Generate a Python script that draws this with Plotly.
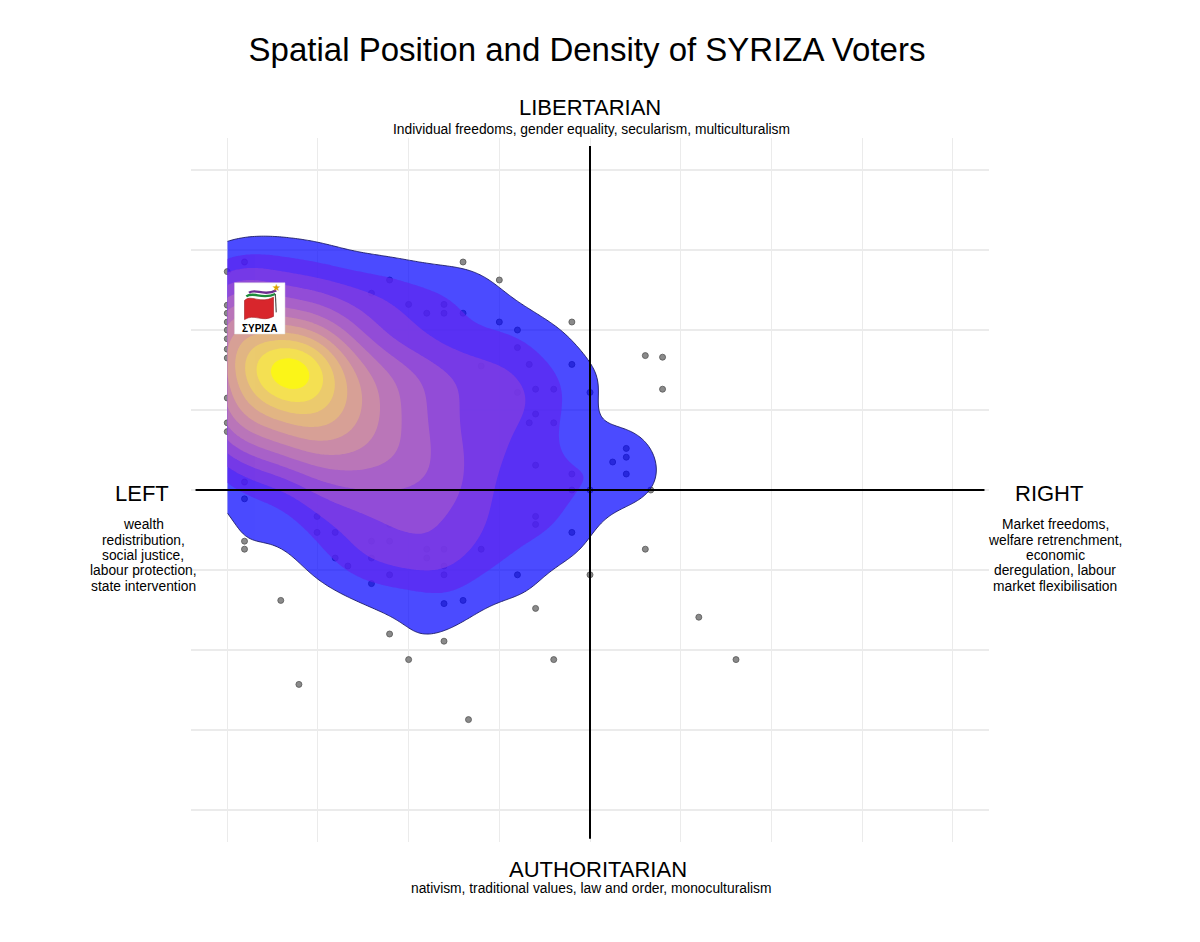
import numpy as np
import plotly.graph_objects as go

# ---------------- data ----------------
# visible respondents (economic left-right, libertarian-authoritarian)
pts_x = [-4.0, -4.0, -4.0, -4.0, -4.0, -4.0, -4.0, -4.0, -4.0, -4.0, -4.0,
         -3.81, -3.81, -3.81, -3.81, -3.81,
         -3.41, -3.21, -3.01, -3.01, -2.81, -2.81, -2.67,
         -2.41, -2.41, -2.41, -2.41,
         -2.21, -2.21, -2.21, -2.21, -2.21,
         -2.0, -2.0, -1.80, -1.80, -1.80,
         -1.61, -1.61, -1.61, -1.61, -1.61, -1.61, -1.61,
         -1.40, -1.40, -1.40, -1.34, -1.20, -1.20, -1.00, -1.00,
         -0.80, -0.80, -0.80, -0.80, -0.67, -0.67,
         -0.60, -0.60, -0.60, -0.60, -0.60, -0.60,
         -0.40, -0.40, -0.40,
         -0.20, -0.20, -0.20, -0.20, -0.20,
         0.00, 0.00, 0.00, 0.25, 0.40, 0.40, 0.40, 0.61, 0.61, 0.67,
         0.80, 0.80, 1.20, 1.61]
pts_y = [2.73, 2.31, 2.21, 2.10, 2.00, 1.89, 1.76, 1.65, 1.15, 0.84, 0.73,
         2.85, 0.10, -0.11, -0.64, -0.74,
         -1.38, -2.43, -0.33, -0.53, -0.53, -0.85, -0.95,
         2.46, -0.64, -0.85, -1.17,
         2.625, -0.43, -0.64, -1.06, -1.80,
         2.32, -2.12, 2.21, -0.74, -0.85,
         2.32, 2.21, -0.74, -0.95, -1.06, -1.42, -1.89,
         2.85, 2.21, -1.38, -2.87, 1.55, -0.74, 2.625, 2.10,
         2.00, 1.78, 1.22, -1.06, 1.57, 0.84,
         1.26, 0.95, 0.31, -0.33, -0.43, -1.48,
         1.26, 0.84, -2.12,
         2.10, 1.57, 0.20, 0.00, -0.53,
         1.22, 0.00, -1.06, 0.35, 0.52, 0.41, 0.20, 1.68, -0.74, 0.00,
         1.66, 1.26, -1.59, -2.12]

# respondents hidden under the dense core: counts on a 0.5 grid
hid_x = [-4.0, -3.5, -3.0, -2.5, -2.0, -1.5, -1.0, -0.5]
hid_y = [3.0, 2.5, 2.0, 1.5, 1.0, 0.5, 0.0, -0.5, -1.0]
hid_n = [
    [0, 1, 1, 0, 0, 0, 0, 0],
    [4, 4, 4, 2, 1, 0, 0, 0],
    [6, 7, 7, 4, 1, 0, 0, 0],
    [8, 11, 11, 7, 6, 4, 2, 0],
    [7, 9, 11, 8, 5, 4, 2, 0],
    [4, 6, 8, 7, 6, 4, 3, 1],
    [0, 1, 4, 5, 5, 5, 2, 1],
    [0, 0, 0, 1, 2, 3, 2, 1],
    [0, 0, 0, 0, 1, 0, 1, 0],
]
# stacked identical answers at the modal position
core_x = [-3.3]
core_y = [1.55]
core_n = [8]

# ---------------- density (2-D gaussian KDE) ----------------
BW = 0.35
N_LEVELS = 12
LEVEL_STEP = 3.0

gx = np.linspace(-4, 4, 321)
gy = np.linspace(-4, 4, 321)
GX, GY = np.meshgrid(gx, gy)
Z = np.zeros_like(GX)


def add_kernel(x, y, w):
    global Z
    Z = Z + w * np.exp(-((GX - x) ** 2 + (GY - y) ** 2) / (2 * BW ** 2))


for x, y in zip(pts_x, pts_y):
    add_kernel(x, y, 1.0)
for j, y in enumerate(hid_y):
    for i, x in enumerate(hid_x):
        if hid_n[j][i]:
            add_kernel(x, y, hid_n[j][i])
for x, y, n in zip(core_x, core_y, core_n):
    add_kernel(x, y, n)

levels = [LEVEL_STEP * (k + 1) for k in range(N_LEVELS)]


# ---------------- colour helpers (blue -> yellow in Lab) ----------------
def _lin(c):
    c = c / 255.0
    return c / 12.92 if c <= 0.04045 else ((c + 0.055) / 1.055) ** 2.4


def rgb_to_lab(rgb):
    r, g, b = [_lin(v) for v in rgb]
    X = (0.4124 * r + 0.3576 * g + 0.1805 * b) / 0.95047
    Y = (0.2126 * r + 0.7152 * g + 0.0722 * b)
    Zc = (0.0193 * r + 0.1192 * g + 0.9505 * b) / 1.08883

    def f(t):
        return t ** (1 / 3) if t > 0.008856 else 7.787 * t + 16 / 116
    fx, fy, fz = f(X), f(Y), f(Zc)
    return 116 * fy - 16, 500 * (fx - fy), 200 * (fy - fz)


def lab_to_rgb(L, a, b):
    fy = (L + 16) / 116
    fx = fy + a / 500
    fz = fy - b / 200

    def finv(t):
        return t ** 3 if t ** 3 > 0.008856 else (t - 16 / 116) / 7.787
    X = finv(fx) * 0.95047
    Y = finv(fy)
    Zc = finv(fz) * 1.08883
    r = 3.2406 * X - 1.5372 * Y - 0.4986 * Zc
    g = -0.9689 * X + 1.8758 * Y + 0.0415 * Zc
    bb = 0.0557 * X - 0.2040 * Y + 1.0570 * Zc

    def comp(c):
        c = min(max(c, 0.0), 1.0)
        v = 12.92 * c if c <= 0.0031308 else 1.055 * c ** (1 / 2.4) - 0.055
        return int(round(255 * v))
    return comp(r), comp(g), comp(bb)


LOW = rgb_to_lab((0, 0, 255))
HIGH = rgb_to_lab((255, 255, 0))
level_colors = []
for k in range(N_LEVELS):
    t = k / (N_LEVELS - 1)
    lab = [LOW[i] + t * (HIGH[i] - LOW[i]) for i in range(3)]
    level_colors.append("rgb(%d,%d,%d)" % lab_to_rgb(*lab))

# ---------------- figure ----------------
fig = go.Figure()

# points on the base axes (drawn beneath the density layer)
fig.add_trace(go.Scatter(
    x=pts_x, y=pts_y, mode="markers", xaxis="x", yaxis="y",
    marker=dict(size=6, color="#8a8a8a", line=dict(color="#555555", width=0.8)),
    hoverinfo="skip", showlegend=False))

# density polygons on an overlaid pair of axes (drawn above the points)
for lev, col in zip(levels, level_colors):
    fig.add_trace(go.Contour(
        x=gx, y=gy, z=Z, autocontour=False, xaxis="x2", yaxis="y2",
        contours=dict(start=lev, end=lev, size=LEVEL_STEP, coloring="fill", showlines=False),
        colorscale=[[0, "rgba(0,0,0,0)"], [1, col]],
        line=dict(width=0), line_smoothing=1,
        opacity=0.7, showscale=False, hoverinfo="skip"))

fig.add_trace(go.Contour(
    x=gx, y=gy, z=Z, autocontour=False, xaxis="x2", yaxis="y2",
    contours=dict(start=levels[0], end=levels[0], size=LEVEL_STEP, coloring="none", showlines=True),
    line=dict(width=0.9, color="#1c1c66"), line_smoothing=1,
    showscale=False, hoverinfo="skip"))

# quadrant axes
shapes = [
    dict(type="line", x0=0, x1=0, y0=-4.36, y1=4.3, xref="x", yref="y",
         line=dict(color="black", width=2)),
    dict(type="line", x0=-4.35, x1=4.35, y0=0, y1=0, xref="x", yref="y",
         line=dict(color="black", width=2)),
]
# party logo (drawn)
shapes += [
    dict(type="rect", x0=-3.92, x1=-3.364, y0=1.95, y1=2.59, xref="x", yref="y",
         fillcolor="white", line=dict(color="#e0e0e0", width=0.5)),
    dict(type="path", xref="x", yref="y",
         path="M -3.81,2.37 C -3.74,2.45 -3.64,2.32 -3.49,2.41 L -3.49,2.17 "
              "C -3.62,2.09 -3.70,2.21 -3.81,2.13 Z",
         fillcolor="#d8262c", line=dict(color="#a31a1f", width=0.6)),
    dict(type="path", xref="x", yref="y",
         path="M -3.79,2.42 C -3.71,2.49 -3.62,2.37 -3.47,2.45",
         line=dict(color="#1d8c3c", width=2.4)),
    dict(type="path", xref="x", yref="y",
         path="M -3.76,2.465 C -3.69,2.53 -3.60,2.41 -3.46,2.495",
         line=dict(color="#6b2d8f", width=2.4)),
    dict(type="path", xref="x", yref="y",
         path="M -3.47,2.45 L -3.46,2.22",
         line=dict(color="#555555", width=1.2)),
]

FONT = "Liberation Sans, Arial, Helvetica, sans-serif"


def px2paper(px, py):
    return (px - 190) / 798.0, (841 - py) / 704.0


annotations = []


def add_text(text, px, py, size):
    xp, yp = px2paper(px, py)
    annotations.append(dict(text=text, x=xp, y=yp, xref="paper", yref="paper",
                            xanchor="center", yanchor="middle", showarrow=False,
                            font=dict(family=FONT, size=size, color="black")))


SMALL = 13.8
add_text("LIBERTARIAN", 589, 107, 22)
add_text("Individual freedoms, gender equality, secularism, multiculturalism", 590, 129, SMALL)
add_text("AUTHORITARIAN", 597, 868, 22)
add_text("nativism, traditional values, law and order, monoculturalism", 590, 888, SMALL)
add_text("LEFT", 141, 493, 22)
add_text("RIGHT", 1048, 493, 22)

left_lines = ["wealth", "redistribution,", "social justice,", "labour protection,", "state intervention"]
right_lines = ["Market freedoms,", "welfare retrenchment,", "economic", "deregulation, labour",
               "market flexibilisation"]
line_y = [523, 539, 554, 569, 585]
for t, yy in zip(left_lines, line_y):
    add_text(t, 142, yy, SMALL)
for t, yy in zip(right_lines, line_y):
    add_text(t, 1054, yy, SMALL)

# logo texts
annotations.append(dict(text="ΣΥΡΙΖΑ", x=-3.642, y=2.025, xref="x", yref="y",
                        showarrow=False, xanchor="center", yanchor="middle",
                        font=dict(family="Liberation Sans Narrow, Arial Narrow, Liberation Sans",
                                  size=10, color="black", weight="bold")))
annotations.append(dict(text="★", x=-3.455, y=2.53, xref="x", yref="y",
                        showarrow=False, xanchor="center", yanchor="middle",
                        font=dict(family="DejaVu Sans", size=10, color="#d9a300")))

axis_common = dict(range=[-4.4, 4.4], tickvals=list(range(-4, 5)), showticklabels=False,
                   zeroline=False, showline=False, ticks="", fixedrange=True)

fig.update_layout(
    width=1200, height=942, autosize=False,
    margin=dict(l=183, r=219, t=130, b=108),
    paper_bgcolor="white", plot_bgcolor="white",
    title=dict(text="Spatial Position and Density of SYRIZA Voters",
               x=579 / 1200, xanchor="center", y=1 - 41 / 942, yanchor="middle",
               font=dict(family=FONT, size=33, color="black")),
    xaxis=dict(showgrid=True, gridcolor="#ebebeb", gridwidth=1.2, **axis_common),
    yaxis=dict(showgrid=True, gridcolor="#ebebeb", gridwidth=2, **axis_common),
    xaxis2=dict(overlaying="x", showgrid=False, visible=False, **axis_common),
    yaxis2=dict(overlaying="y", showgrid=False, visible=False, **axis_common),
    shapes=shapes, annotations=annotations, showlegend=False,
)

fig.write_html("out.html")
